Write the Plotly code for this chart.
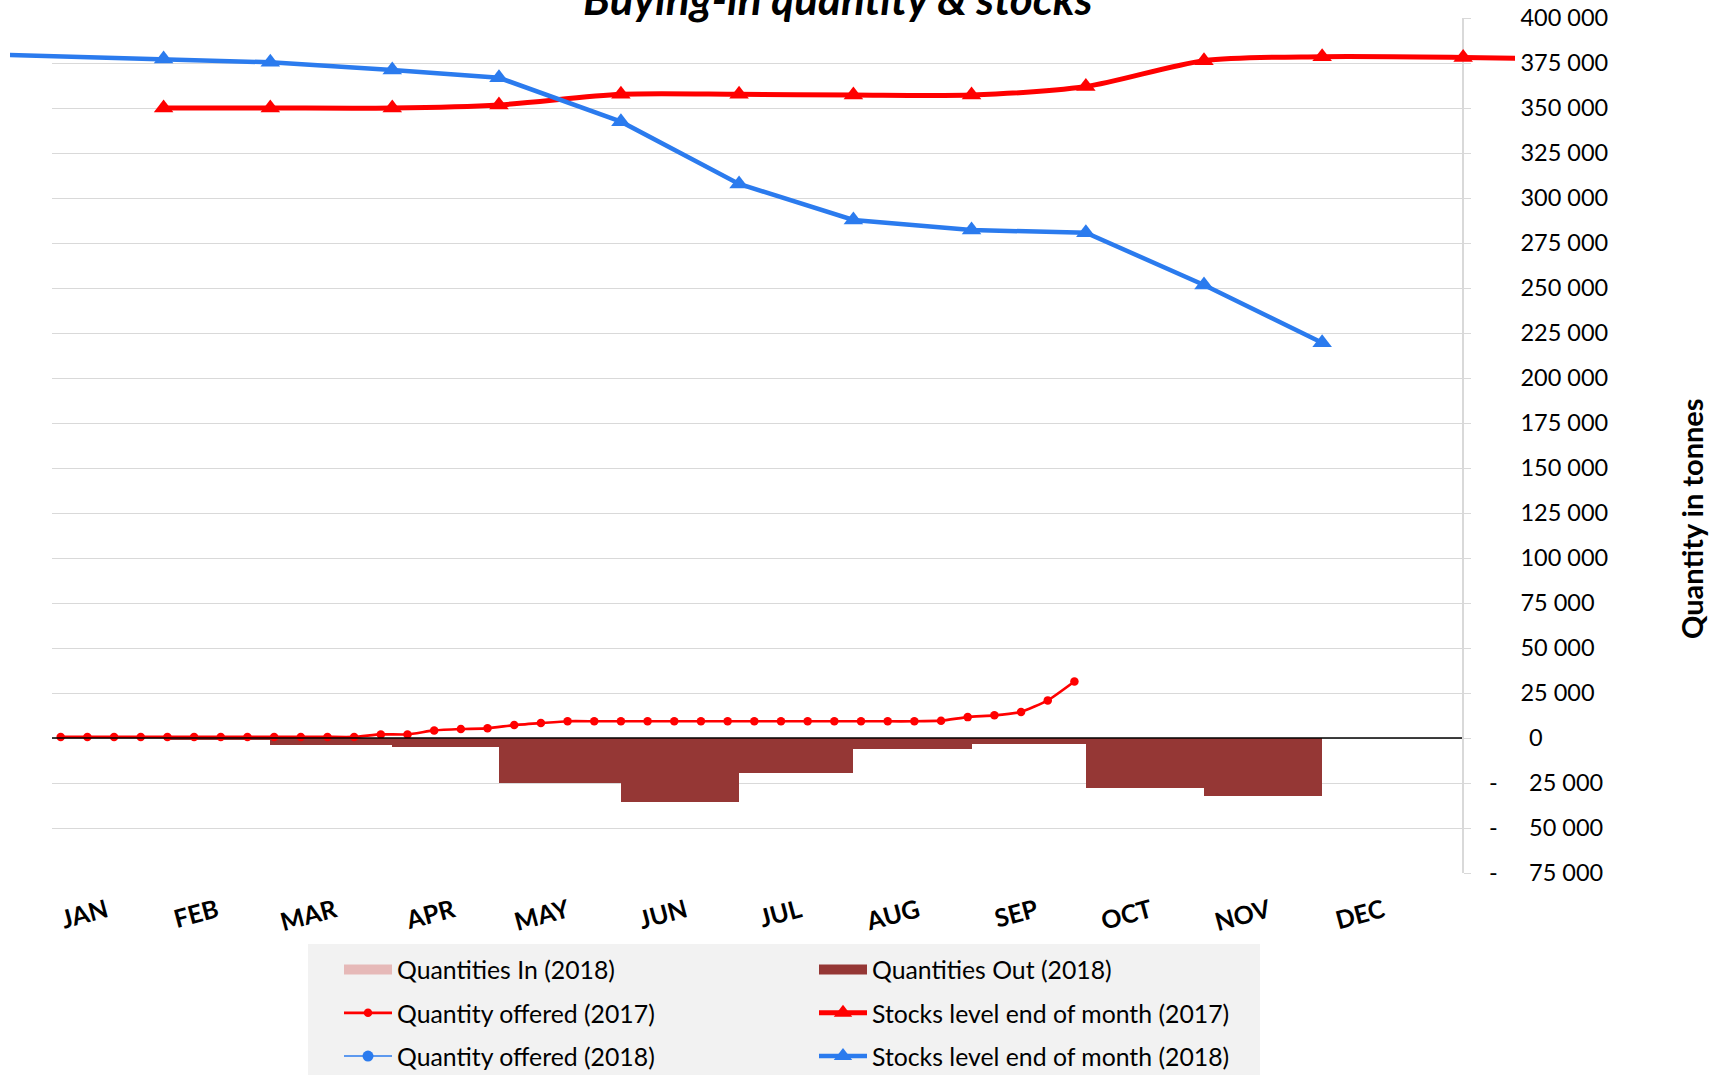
import pandas as pd
import plotly.graph_objects as go

# ---------------- data ----------------
months = ["JAN", "FEB", "MAR", "APR", "MAY", "JUN", "JUL", "AUG", "SEP", "OCT", "NOV", "DEC"]
month_tick_dates = ["2018-01-16", "2018-02-14", "2018-03-17", "2018-04-17", "2018-05-17", "2018-06-17",
                    "2018-07-17", "2018-08-17", "2018-09-17", "2018-10-17", "2018-11-17", "2018-12-17"]

# weekly quantity offered (2017 campaign, shown on the calendar)
offer_dates_2017 = pd.date_range("2018-01-04", periods=39, freq="7D")
offer_2017 = [600, 600, 600, 600, 600, 600, 600, 600, 600, 600, 600, 600,
              2000, 2000, 4200, 5000, 5400, 7200, 8300,
              9300, 9300, 9300, 9300, 9300, 9300, 9300, 9300, 9300, 9300, 9300, 9300, 9300, 9300,
              9600, 11600, 12600, 14500, 20900, 31400]

# monthly stock report dates
stock_dates = ["2018-01-31", "2018-02-28", "2018-04-01", "2018-04-29", "2018-05-31", "2018-07-01",
               "2018-07-31", "2018-08-31", "2018-09-30", "2018-10-31", "2018-12-01", "2019-01-07"]

stock_dates_2017 = stock_dates + ["2019-01-31"]
stock_2017 = [350000, 350000, 350000, 351700, 357600, 357600, 357200, 357200, 361900, 376300,
              378500, 378100, 377300]

stock_dates_2018 = ["2017-11-30"] + stock_dates[:11]
stock_2018 = [380700, 377200, 375400, 371100, 366800, 342400, 307800, 287800, 282200, 280700,
              251700, 219600]

period_start = ["2017-12-31"] + stock_dates[:-1]
period_end = stock_dates
qty_in_2018 = [0, 0, 0, 0, 0, 0, 0, 0, 0, 0, 0, 0]
qty_out_2018 = [0, -1000, -3900, -5000, -24800, -35400, -19600, -6100, -3150, -27950, -32200, 0]

y_ticks = [400000, 375000, 350000, 325000, 300000, 275000, 250000, 225000, 200000, 175000, 150000,
           125000, 100000, 75000, 50000, 25000, 0, -25000, -50000, -75000]
y_labels_pos = ["400 000", "375 000", "350 000", "325 000", "300 000", "275 000", "250 000", "225 000",
                "200 000", "175 000", "150 000", "125 000", "100 000", "75 000", "50 000", "25 000",
                "", "", "", ""]
y_ticks_low = [0, -25000, -50000, -75000]
y_labels_low = ["0", "25 000", "50 000", "75 000"]
y_ticks_neg = [-25000, -50000, -75000]
y_labels_neg = ["-", "-", "-"]

# ---------------- layout geometry ----------------
W, H = 1725, 1075
m_l, m_r, m_t, m_b = 10, 210, 18, 202
pw = W - m_l - m_r
ph = H - m_t - m_b
x_domain = [(52 - m_l) / pw, (1462 - m_l) / pw]
x_range = [pd.Timestamp("2018-01-01 17:12:00"), pd.Timestamp("2019-01-06 16:48:00")]
per_unit = (x_range[1] - x_range[0]) / (x_domain[1] - x_domain[0])
x2_start = x_range[0] - per_unit * x_domain[0]
x2_range = [x2_start, x2_start + per_unit]
y_range = [-75000, 400000]


def px_x(p):
    return (p - m_l) / pw


def px_y(p):
    return (H - m_b - p) / ph


bar_width = [(pd.Timestamp(e) - pd.Timestamp(s)).total_seconds() * 1000 for s, e in zip(period_start, period_end)]

RED = "#FF0000"
BLUE = "#2B7BEE"
PINK = "#E6B9B8"
MAROON = "#953735"
FONT = "Lato"

fig = go.Figure()
fig.add_trace(go.Bar(x=period_start, y=qty_in_2018, width=bar_width, offset=0,
                     marker=dict(color=PINK, line=dict(width=0)),
                     name="Quantities In (2018)", showlegend=False))
fig.add_trace(go.Bar(x=period_start, y=qty_out_2018, width=bar_width, offset=0,
                     marker=dict(color=MAROON, line=dict(width=0)),
                     name="Quantities Out (2018)", showlegend=False))
# legend keys for the bar series (wide rectangular swatches)
fig.add_trace(go.Scatter(x=[None], y=[None], mode="lines", line=dict(color=PINK, width=15),
                         name="Quantities In (2018)", legend="legend", legendgroup="g1", hoverinfo="skip"))
fig.add_trace(go.Scatter(x=[None], y=[None], mode="lines", line=dict(color=MAROON, width=15),
                         name="Quantities Out (2018)", legend="legend2", legendgroup="g2", hoverinfo="skip"))
fig.add_trace(go.Scatter(x=offer_dates_2017, y=offer_2017, mode="lines+markers",
                         line=dict(color=RED, width=2.7, shape="spline", smoothing=0.5),
                         marker=dict(symbol="circle", size=8.5, color=RED),
                         name="Quantity offered (2017)", legend="legend", legendgroup="g3"))
fig.add_trace(go.Scatter(x=stock_dates_2017, y=stock_2017, mode="lines+markers",
                         line=dict(color=RED, width=5, shape="spline", smoothing=0.8),
                         marker=dict(symbol="triangle-up", size=17, color=RED),
                         name="Stocks level end of month (2017)", legend="legend2", legendgroup="g4",
                         xaxis="x2", yaxis="y2"))
fig.add_trace(go.Scatter(x=[None], y=[None], mode="lines+markers",
                         line=dict(color=BLUE, width=1.5),
                         marker=dict(symbol="circle", size=11, color=BLUE),
                         name="Quantity offered (2018)", legend="legend", legendgroup="g5"))
fig.add_trace(go.Scatter(x=stock_dates_2018, y=stock_2018, mode="lines+markers",
                         line=dict(color=BLUE, width=4.5),
                         marker=dict(symbol="triangle-up", size=17, color=BLUE),
                         name="Stocks level end of month (2018)", legend="legend2", legendgroup="g6",
                         xaxis="x2", yaxis="y2"))
# carriers so the secondary label axes are drawn
fig.add_trace(go.Scatter(x=[None], y=[None], yaxis="y3", showlegend=False, hoverinfo="skip"))
fig.add_trace(go.Scatter(x=[None], y=[None], yaxis="y4", showlegend=False, hoverinfo="skip"))

tickfont = dict(family=FONT, size=23.5, color="#000000")
legend_common = dict(xref="paper", yref="paper", xanchor="left", yanchor="top",
                     bgcolor="rgba(0,0,0,0)", borderwidth=0, traceorder="grouped",
                     tracegroupgap=8, itemwidth=48,
                     font=dict(family=FONT, size=24.8, color="#000000"))

fig.update_layout(
    width=W, height=H,
    margin=dict(l=m_l, r=m_r, t=m_t, b=m_b, autoexpand=False),
    paper_bgcolor="white", plot_bgcolor="rgba(0,0,0,0)",
    font=dict(family=FONT, color="#000000"),
    barmode="overlay", bargap=0,
    showlegend=True,
    xaxis=dict(type="date", domain=x_domain, range=x_range, anchor="y",
               showgrid=False, zeroline=False, showline=False, ticks="",
               tickmode="array", tickvals=month_tick_dates, ticktext=months, tickangle=-15,
               tickfont=dict(family=FONT, size=25, color="#000000", weight="bold"),
               ticklabelstandoff=18),
    xaxis2=dict(type="date", domain=[0, 1], range=x2_range, anchor="y2", visible=False),
    yaxis=dict(domain=[0, 1], anchor="x", side="right", range=y_range,
               tickmode="array", tickvals=y_ticks, ticktext=y_labels_pos,
               showgrid=True, gridcolor="#D9D9D9", gridwidth=1.3, zeroline=False,
               showline=True, linecolor="#D9D9D9", linewidth=1.5,
               ticks="outside", ticklen=7, tickcolor="#D9D9D9", tickwidth=1.3,
               tickfont=tickfont, ticklabelstandoff=45),
    yaxis2=dict(domain=[0, 1], anchor="x2", range=y_range, visible=False),
    yaxis3=dict(overlaying="y", anchor="x", side="right", range=y_range,
                tickmode="array", tickvals=y_ticks_low, ticktext=y_labels_low,
                showgrid=False, zeroline=False, showline=False, ticks="",
                tickfont=tickfont, ticklabelstandoff=66),
    yaxis4=dict(overlaying="y", anchor="x", side="right", range=y_range,
                tickmode="array", tickvals=y_ticks_neg, ticktext=y_labels_neg,
                showgrid=False, zeroline=False, showline=False, ticks="",
                tickfont=tickfont, ticklabelstandoff=26),
    legend=dict(x=px_x(339), y=px_y(947), **legend_common),
    legend2=dict(x=px_x(814), y=px_y(947), **legend_common),
    shapes=[
        dict(type="rect", xref="paper", yref="paper",
             x0=px_x(308), x1=px_x(1260), y0=px_y(1090), y1=px_y(944),
             fillcolor="#F2F2F2", line=dict(width=0), layer="below"),
        dict(type="line", xref="x domain", yref="y", x0=0, x1=1, y0=0, y1=0,
             line=dict(color="#000000", width=1.5), layer="above"),
    ],
    annotations=[
        dict(text="<b><i>Buying-in quantity &amp; stocks</i></b>", xref="paper", yref="paper",
             x=px_x(838), y=px_y(-1.5), xanchor="center", yanchor="middle", showarrow=False,
             font=dict(family=FONT, size=44, color="#000000")),
        dict(text="<b>Quantity in tonnes</b>", xref="paper", yref="paper",
             x=px_x(1691), y=px_y(519), xanchor="center", yanchor="middle", showarrow=False,
             textangle=-90, font=dict(family=FONT, size=29, color="#000000")),
    ],
)

fig.write_html("out.html", post_script="document.body.style.margin='0';",
               config={"displayModeBar": False})
